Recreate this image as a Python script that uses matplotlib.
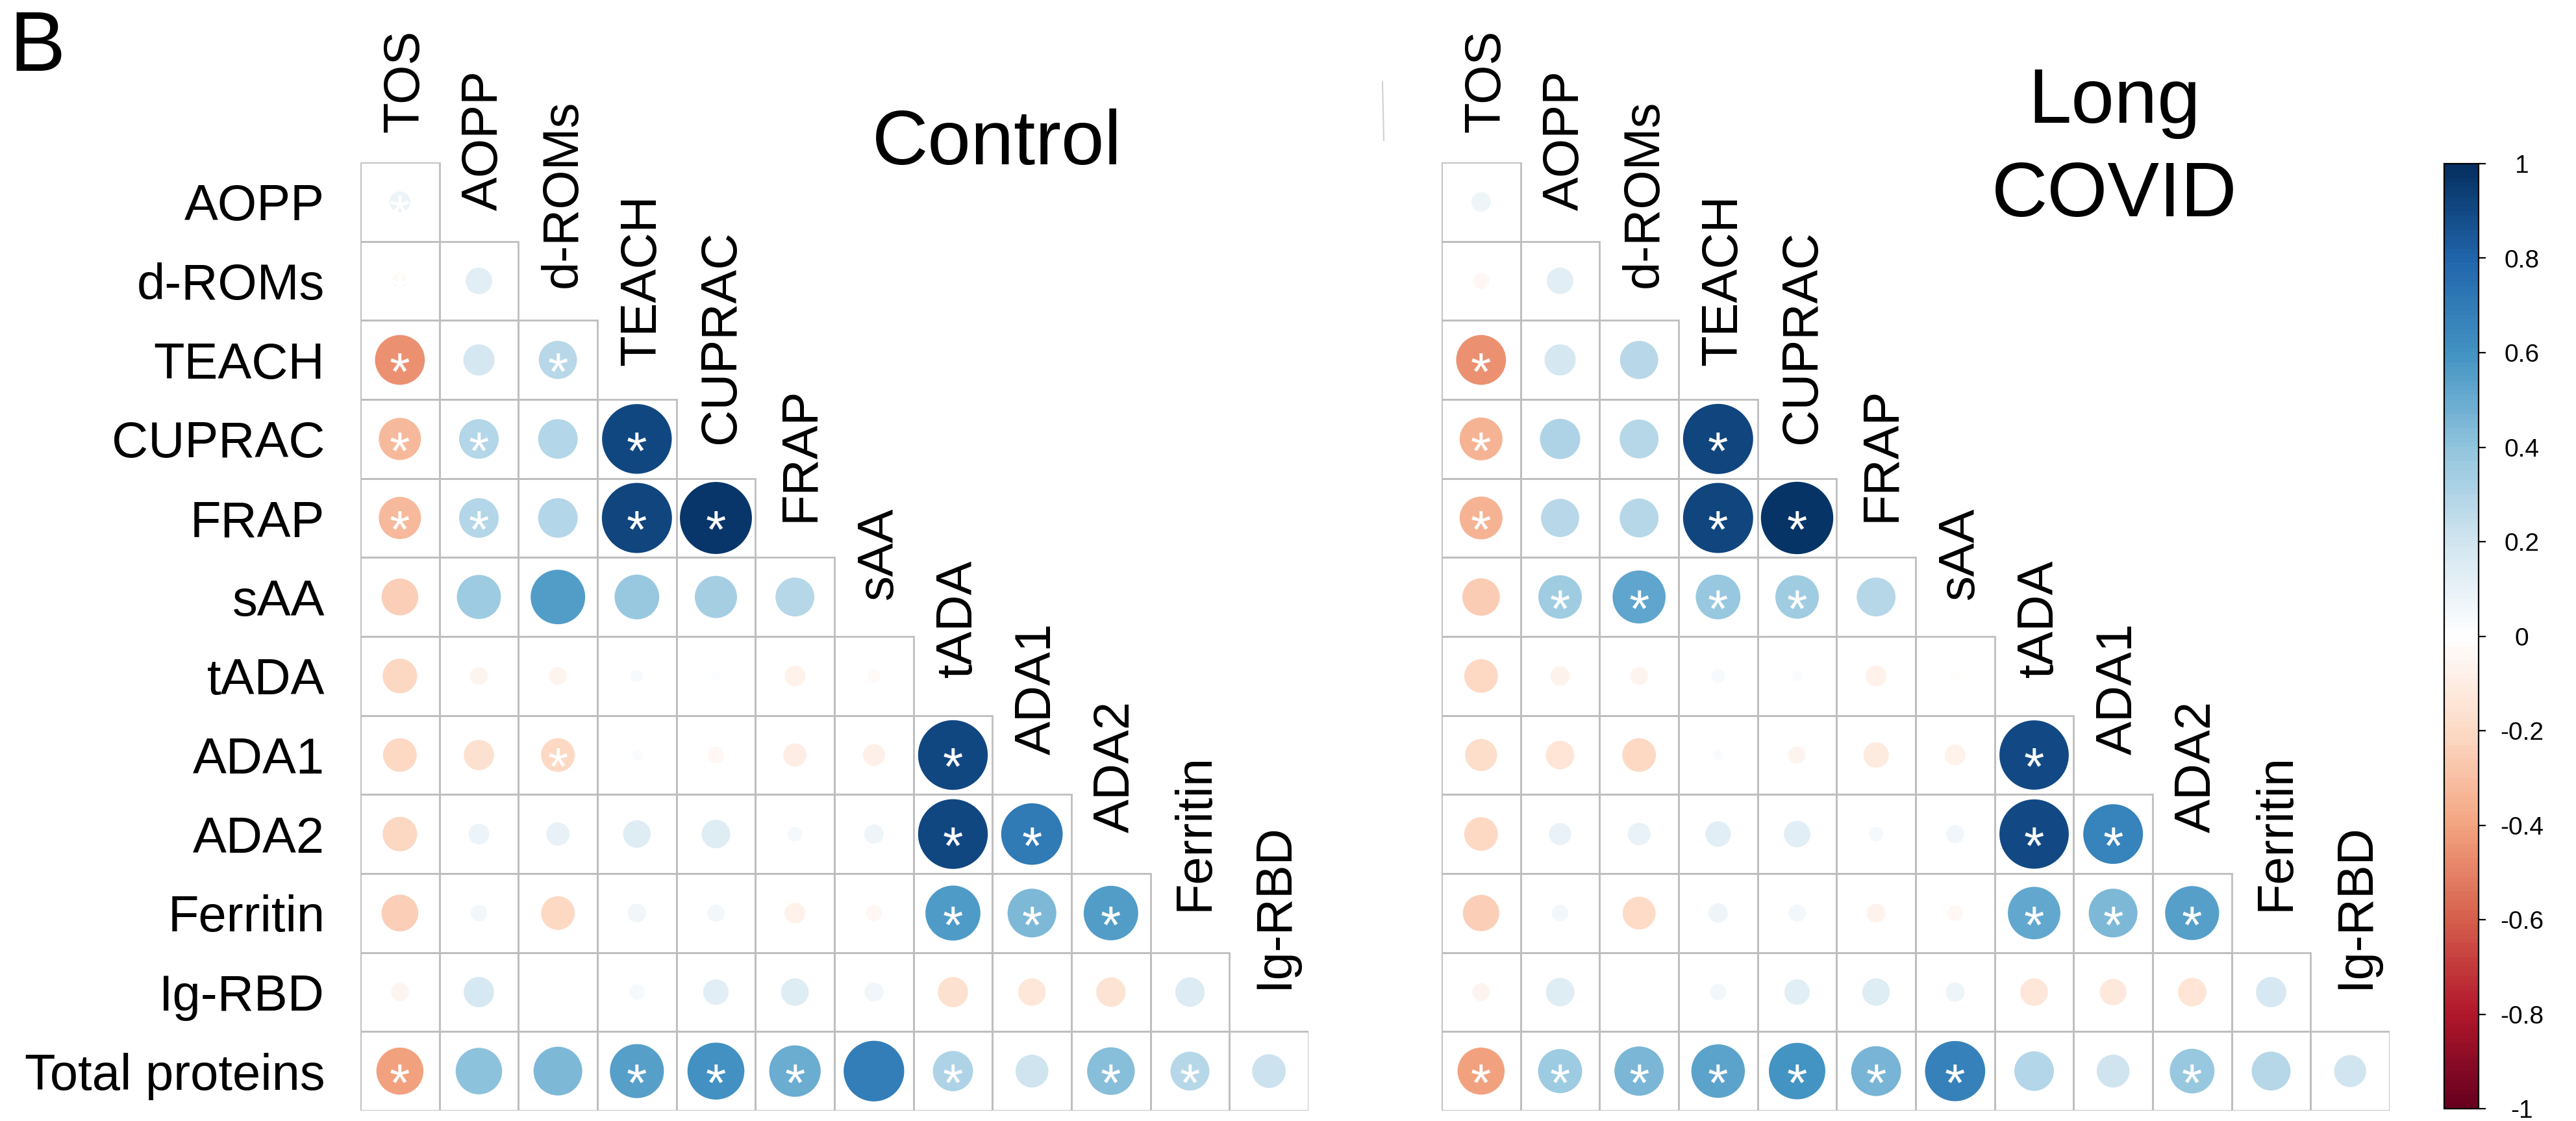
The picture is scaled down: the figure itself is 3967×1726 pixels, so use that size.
import numpy as np
import matplotlib
matplotlib.use("Agg")
import matplotlib.pyplot as plt
from matplotlib.patches import Circle, Rectangle
from matplotlib.colors import LinearSegmentedColormap, ListedColormap, Normalize
from matplotlib.cm import ScalarMappable
from matplotlib.lines import Line2D

plt.rcParams['font.family'] = ['Liberation Sans', 'DejaVu Sans']

# ==================== DATA ====================
row_labels = ['AOPP', 'd-ROMs', 'TEACH', 'CUPRAC', 'FRAP', 'sAA', 'tADA',
              'ADA1', 'ADA2', 'Ferritin', 'Ig-RBD', 'Total proteins']
col_labels = ['TOS', 'AOPP', 'd-ROMs', 'TEACH', 'CUPRAC', 'FRAP', 'sAA',
              'tADA', 'ADA1', 'ADA2', 'Ferritin', 'Ig-RBD']

# lower triangle, one list per row (row i has i+1 cells)
control_r = [
    [0.08],
    [-0.04, 0.13],
    [-0.46, 0.18, 0.27],
    [-0.33, 0.29, 0.29, 0.90],
    [-0.33, 0.29, 0.29, 0.91, 0.96],
    [-0.25, 0.36, 0.55, 0.37, 0.33, 0.28],
    [-0.22, -0.06, -0.06, 0.03, 0.015, -0.08, -0.03],
    [-0.21, -0.17, -0.21, 0.02, -0.05, -0.10, -0.09, 0.90],
    [-0.22, 0.08, 0.10, 0.14, 0.15, 0.04, 0.07, 0.90, 0.70],
    [-0.25, 0.05, -0.21, 0.065, 0.055, -0.08, -0.05, 0.56, 0.44, 0.55],
    [-0.06, 0.17, 0.0, 0.045, 0.12, 0.14, 0.065, -0.17, -0.14, -0.16, 0.16],
    [-0.41, 0.40, 0.44, 0.54, 0.60, 0.49, 0.68, 0.30, 0.20, 0.42, 0.28, 0.21],
]
control_sig = [
    [1],
    [1, 0],
    [1, 0, 1],
    [1, 1, 0, 1],
    [1, 1, 0, 1, 1],
    [0, 0, 0, 0, 0, 0],
    [0, 0, 0, 0, 0, 0, 0],
    [0, 0, 1, 0, 0, 0, 0, 1],
    [0, 0, 0, 0, 0, 0, 0, 1, 1],
    [0, 0, 0, 0, 0, 0, 0, 1, 1, 1],
    [0, 0, 0, 0, 0, 0, 0, 0, 0, 0, 0],
    [1, 0, 0, 1, 1, 1, 0, 1, 0, 1, 1, 0],
]

covid_r = [
    [0.07],
    [-0.05, 0.13],
    [-0.46, 0.18, 0.27],
    [-0.34, 0.30, 0.28, 0.91],
    [-0.34, 0.27, 0.28, 0.91, 0.97],
    [-0.26, 0.35, 0.52, 0.37, 0.35, 0.28],
    [-0.21, -0.07, -0.06, 0.035, 0.02, -0.08, -0.02],
    [-0.19, -0.15, -0.21, 0.02, -0.055, -0.12, -0.08, 0.89],
    [-0.21, 0.09, 0.095, 0.12, 0.13, 0.04, 0.06, 0.89, 0.66],
    [-0.245, 0.05, -0.20, 0.07, 0.055, -0.065, -0.045, 0.51, 0.44, 0.54],
    [-0.06, 0.15, 0.0, 0.05, 0.12, 0.14, 0.07, -0.14, -0.13, -0.15, 0.17],
    [-0.41, 0.36, 0.45, 0.53, 0.59, 0.46, 0.67, 0.29, 0.20, 0.37, 0.28, 0.19],
]
covid_sig = [
    [0],
    [0, 0],
    [1, 0, 0],
    [1, 0, 0, 1],
    [1, 0, 0, 1, 1],
    [0, 1, 1, 1, 1, 0],
    [0, 0, 0, 0, 0, 0, 0],
    [0, 0, 0, 0, 0, 0, 0, 1],
    [0, 0, 0, 0, 0, 0, 0, 1, 1],
    [0, 0, 0, 0, 0, 0, 0, 1, 1, 1],
    [0, 0, 0, 0, 0, 0, 0, 0, 0, 0, 0],
    [1, 1, 1, 1, 1, 1, 1, 0, 0, 1, 0, 0],
]

cbar_ticks = [1, 0.8, 0.6, 0.4, 0.2, 0, -0.2, -0.4, -0.6, -0.8, -1]
cbar_labels = ['1', '0.8', '0.6', '0.4', '0.2', '0', '-0.2', '-0.4', '-0.6', '-0.8', '-1']

# ==================== STYLE ====================
W, H = 3967, 1726
rdbu = ['#67001F', '#B2182B', '#D6604D', '#F4A582', '#FDDBC7', '#FFFFFF',
        '#D1E5F0', '#92C5DE', '#4393C3', '#2166AC', '#053061']
cmap = ListedColormap(LinearSegmentedColormap.from_list('col2', rdbu)(np.linspace(0, 1, 200)))
norm = Normalize(-1, 1)
grid_col = '#BEBEBE'
label_size = 56


def px_box(x0, y0, w, h):
    # figure-pixel box (top-left origin) -> axes rect
    return [x0 / W, 1 - (y0 + h) / H, w / W, h / H]


def draw_panel(ax, r_rows, sig_rows, show_rows=True):
    n = len(col_labels)
    ax.set_xlim(0, n)
    ax.set_ylim(n, 0)
    ax.axis('off')
    for i, (vals, sigs) in enumerate(zip(r_rows, sig_rows)):
        for j, (r, s) in enumerate(zip(vals, sigs)):
            ax.add_patch(Rectangle((j, i), 1, 1, fill=False, ec=grid_col, lw=2.0))
            if r != 0:
                ax.add_patch(Circle((j + 0.5, i + 0.5), 0.465 * np.sqrt(abs(r)),
                                    fc=cmap(norm(r)), ec='none'))
            if s:
                ax.text(j + 0.5, i + 0.87, '*', color='white', fontsize=58,
                        ha='center', va='baseline')
    # row labels (only the first panel has them)
    if show_rows:
        for i, lab in enumerate(row_labels):
            ax.text(-0.45, i + 0.5, lab, fontsize=label_size, ha='right',
                    va='center_baseline', clip_on=False)
    # column labels on the diagonal
    for j, lab in enumerate(col_labels):
        ax.text(j + 0.5, j * 0.985 - 0.38, lab, fontsize=label_size, rotation=90,
                rotation_mode='anchor', ha='left', va='center_baseline', clip_on=False)


fig = plt.figure(figsize=(W / 100, H / 100), dpi=100)

ax1 = fig.add_axes(px_box(555, 250, 1460, 1460))
draw_panel(ax1, control_r, control_sig)
ax2 = fig.add_axes(px_box(2220, 250, 1460, 1460))
draw_panel(ax2, covid_r, covid_sig, show_rows=False)

fig.text(1535 / W, 1 - 253 / H, 'Control', fontsize=86, ha='center', va='baseline')
fig.text(3256 / W, 1 - 189 / H, 'Long', fontsize=86, ha='center', va='baseline')
fig.text(3256 / W, 1 - 333 / H, 'COVID', fontsize=86, ha='center', va='baseline')
fig.text(14 / W, 1 - 109 / H, 'B', fontsize=93, ha='left', va='baseline')

# small stray line left of the second panel
fig.add_artist(Line2D([2129 / W, 2131 / W], [1 - 126 / H, 1 - 216 / H],
                      color='#D0D0D0', lw=1.5))

# colour legend
cax = fig.add_axes(px_box(3764, 252, 53, 1455))
cb = fig.colorbar(ScalarMappable(norm=norm, cmap=cmap), cax=cax, ticks=cbar_ticks)
cb.set_ticklabels(cbar_labels)
cb.outline.set_linewidth(1.6)
cax.tick_params(length=8, width=1.6, labelsize=28, pad=40)
for t in cax.get_yticklabels():
    t.set_ha('center')

fig.savefig('out.png', dpi=100)
